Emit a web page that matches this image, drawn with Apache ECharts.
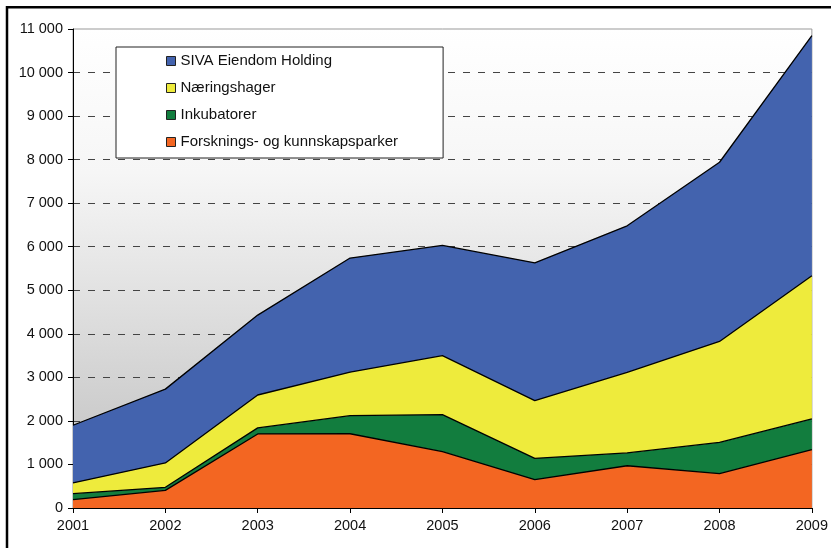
<!DOCTYPE html>
<html>
<head>
<meta charset="utf-8">
<script src="https://cdn.jsdelivr.net/npm/echarts@6/dist/echarts.min.js"></script>
<style>
  html, body { margin: 0; padding: 0; background: #fff; }
  #chart { width: 831px; height: 548px; }
</style>
</head>
<body>
<div id="chart"></div>
<script>
const years = ['2001', '2002', '2003', '2004', '2005', '2006', '2007', '2008', '2009'];
const forskning = [190, 405, 1700, 1705, 1295, 650, 970, 790, 1340];
const inkubatorer = [140, 70, 140, 415, 850, 490, 295, 715, 705];
const naeringshager = [245, 560, 755, 1000, 1355, 1325, 1850, 2320, 3290];
const siva = [1325, 1695, 1835, 2620, 2530, 3165, 3365, 4115, 5515];

const names = {
  siva: 'SIVA Eiendom Holding',
  naer: 'Næringshager',
  inkub: 'Inkubatorer',
  forsk: 'Forsknings- og kunnskapsparker'
};
const colors = {
  siva: '#4363AE',
  naer: '#EEEB3C',
  inkub: '#127D3E',
  forsk: '#F36622'
};

const chart = echarts.init(document.getElementById('chart'), null, { renderer: 'canvas' });

function areaSeries(name, data, color) {
  return {
    name: name,
    type: 'line',
    stack: 'total',
    data: data,
    showSymbol: false,
    symbol: 'none',
    itemStyle: { color: color },
    lineStyle: { color: '#000', width: 1.3 },
    areaStyle: { color: color, opacity: 1 },
    emphasis: { disabled: true },
    silent: true
  };
}

const gridColors = [];
for (let i = 0; i < 11; i++) gridColors.push('#444');
gridColors.push('rgba(0,0,0,0)');

chart.setOption({
  animation: false,
  backgroundColor: '#fff',
  textStyle: { fontFamily: 'Liberation Sans, Arial, sans-serif' },
  grid: {
    left: 73, right: 19, top: 29, bottom: 40,
    show: true,
    borderColor: '#999',
    borderWidth: 1,
    backgroundColor: new echarts.graphic.LinearGradient(0, 0, 0, 1, [
      { offset: 0, color: '#ffffff' },
      { offset: 0.3, color: '#f6f6f6' },
      { offset: 1, color: '#bdbdbd' }
    ])
  },
  legend: {
    orient: 'vertical',
    left: 116,
    top: 47,
    data: [names.siva, names.naer, names.inkub, names.forsk],
    icon: 'rect',
    itemWidth: 9,
    itemHeight: 9,
    itemGap: 12,
    padding: [6.5, 45, 8.5, 50],
    backgroundColor: '#fff',
    borderColor: '#222',
    borderWidth: 1,
    borderRadius: 0,
    itemStyle: { borderColor: '#222', borderWidth: 1 },
    textStyle: { fontSize: 15, color: '#111', fontFamily: 'Liberation Sans, Arial, sans-serif' },
    selectedMode: false
  },
  xAxis: {
    type: 'category',
    data: years,
    boundaryGap: false,
    axisLine: { lineStyle: { color: '#000', width: 1 } },
    axisTick: { show: true, length: 5, lineStyle: { color: '#000' } },
    axisLabel: { fontSize: 14.5, color: '#111', margin: 10 },
    splitLine: { show: false }
  },
  yAxis: {
    type: 'value',
    min: 0,
    max: 11000,
    interval: 1000,
    axisLine: { show: true, lineStyle: { color: '#000', width: 1 } },
    axisTick: { show: true, length: 5, lineStyle: { color: '#000' } },
    axisLabel: {
      fontSize: 14.5,
      color: '#111',
      margin: 10,
      formatter: function (v) { return String(v).replace(/\B(?=(\d{3})+(?!\d))/g, ' '); }
    },
    splitLine: { show: true, lineStyle: { color: gridColors, type: [7, 8], width: 1.1 } }
  },
  series: [
    areaSeries(names.forsk, forskning, colors.forsk),
    areaSeries(names.inkub, inkubatorer, colors.inkub),
    areaSeries(names.naer, naeringshager, colors.naer),
    areaSeries(names.siva, siva, colors.siva)
  ],
  graphic: [
    {
      type: 'polyline',
      shape: { points: [[7, 548], [7, 7.2], [831, 7.2]] },
      style: { stroke: '#000', lineWidth: 2.5, fill: null },
      silent: true
    }
  ]
});
</script>
</body>
</html>
